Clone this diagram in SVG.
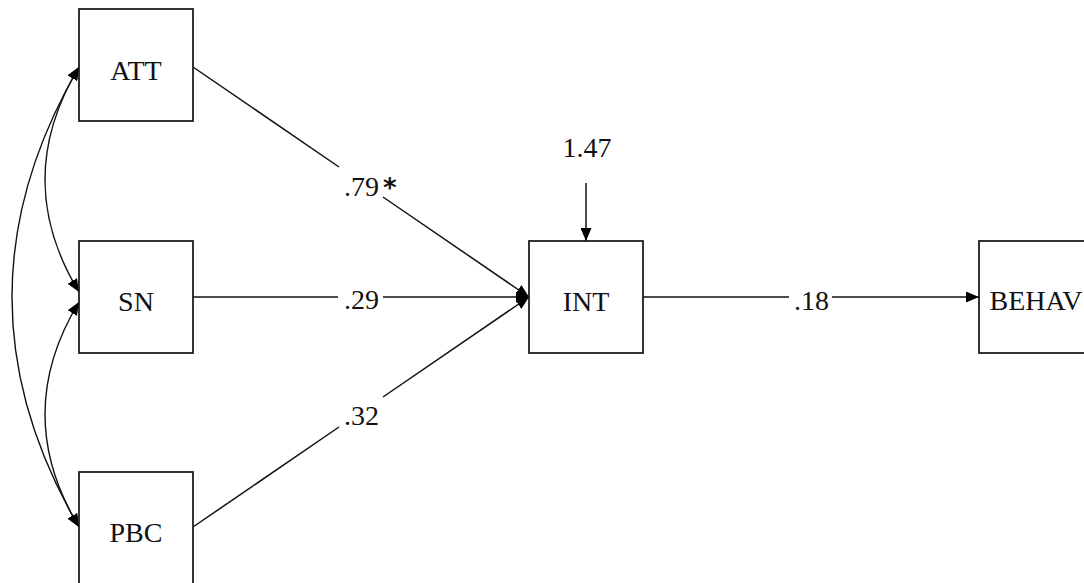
<svg xmlns="http://www.w3.org/2000/svg" width="1084" height="583" viewBox="0 0 1084 583">
  <style>
    .box { fill: #fff; stroke: #111; stroke-width: 1.7; }
    .lbl { font-family: "Liberation Serif", "Times New Roman", serif; font-size: 28px; fill: #111; }
    .nm { text-anchor: middle; }
    .edge { fill: none; stroke: #111; stroke-width: 1.5; }
    .cov { fill: none; stroke: #111; stroke-width: 1.4; }
  </style>
  <defs>
    <marker id="ah" viewBox="0 0 13 11" refX="13" refY="5.5" markerWidth="13" markerHeight="11" markerUnits="userSpaceOnUse" orient="auto-start-reverse">
      <path d="M0,0 L13,5.5 L0,11 z" fill="#000"/>
    </marker>
  </defs>
  <rect width="1084" height="583" fill="#fff"/>

  <g id="connectors">
    <!-- covariances -->
    <path class="cov" d="M79,67 Q11,180 79,292" marker-start="url(#ah)" marker-end="url(#ah)"/>
    <path class="cov" d="M79,302 Q11,414 79,527" marker-start="url(#ah)" marker-end="url(#ah)"/>
    <path class="cov" d="M79,67 Q-55,297 79,527" marker-start="url(#ah)" marker-end="url(#ah)"/>
    <!-- ATT -> INT -->
    <line class="edge" x1="193" y1="67" x2="339" y2="167"/>
    <line class="edge" x1="383" y1="197" x2="529" y2="297" marker-end="url(#ah)"/>
    <!-- SN -> INT -->
    <line class="edge" x1="193" y1="297" x2="338" y2="297"/>
    <line class="edge" x1="383" y1="297" x2="529" y2="297" marker-end="url(#ah)"/>
    <!-- PBC -> INT -->
    <line class="edge" x1="193" y1="527" x2="339" y2="427"/>
    <line class="edge" x1="383" y1="397" x2="529" y2="297" marker-end="url(#ah)"/>
    <!-- INT -> BEHAV -->
    <line class="edge" x1="643" y1="297" x2="789" y2="297"/>
    <line class="edge" x1="832" y1="297" x2="979" y2="297" marker-end="url(#ah)"/>
    <!-- error -> INT -->
    <line class="edge" x1="586" y1="183" x2="586" y2="241" marker-end="url(#ah)"/>
    <!-- labels -->
    <text class="lbl" x="344" y="196">.79<tspan dx="4" dy="1" font-family="DejaVu Sans, sans-serif" font-weight="bold" font-size="26">*</tspan></text>
    <text class="lbl" x="344" y="309">.29</text>
    <text class="lbl" x="344" y="425">.32</text>
    <text class="lbl" x="794" y="310">.18</text>
    <text class="lbl nm" x="587" y="157">1.47</text>
  </g>

  <g id="node-ATT">
    <rect class="box" x="79" y="9" width="114" height="112"/>
    <text class="lbl nm" x="136" y="80">ATT</text>
  </g>
  <g id="node-SN">
    <rect class="box" x="79" y="241" width="114" height="112"/>
    <text class="lbl nm" x="136" y="311">SN</text>
  </g>
  <g id="node-PBC">
    <rect class="box" x="79" y="472" width="114" height="113"/>
    <text class="lbl nm" x="136" y="542">PBC</text>
  </g>
  <g id="node-INT">
    <rect class="box" x="529" y="241" width="114" height="112"/>
    <text class="lbl nm" x="586" y="311">INT</text>
  </g>
  <g id="node-BEHAV">
    <rect class="box" x="979" y="241" width="114" height="112"/>
    <text class="lbl nm" x="1036" y="310">BEHAV</text>
  </g>
</svg>
